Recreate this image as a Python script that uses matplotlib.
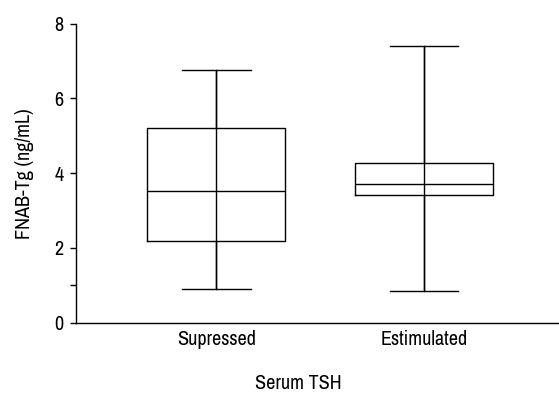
import matplotlib
matplotlib.use("Agg")
import matplotlib.pyplot as plt

# Values
groups = ["Supressed", "Estimulated"]
whisker_low = [0.91, 0.86]
q1 = [2.19, 3.41]
median = [3.52, 3.72]
q3 = [5.20, 4.28]
whisker_high = [6.76, 7.40]

# narrow sans like the original figure, with fallbacks
plt.rcParams["font.family"] = ["Archivo Narrow", "Liberation Sans", "DejaVu Sans"]
fs = 14.5

stats = []
for i, g in enumerate(groups):
    stats.append({
        "label": g,
        "whislo": whisker_low[i],
        "q1": q1[i],
        "med": median[i],
        "q3": q3[i],
        "whishi": whisker_high[i],
        "fliers": [],
    })

positions = [1, 2]

fig = plt.figure(figsize=(5.59, 3.93), dpi=100)
ax = fig.add_axes([0.1365, 0.1789, 0.8635, 0.7608])

line = dict(color="black", linewidth=1.0)
ax.bxp(stats, positions=positions, widths=0.665, showfliers=False,
       boxprops=line, whiskerprops=line, capprops=line, medianprops=line,
       capwidths=0.33)
# the whisker line runs through the whole box in the original
ax.vlines(positions, whisker_low, whisker_high, color="black", linewidth=1.0)

ax.set_xlim(0.325, 2.65)
ax.set_ylim(0, 8)
ax.set_yticks([0, 1, 2, 4, 6, 8])
ax.set_yticklabels(["0", "", "2", "4", "6", "8"])
ax.set_xticks(positions)
ax.set_xticklabels(groups)

for s in ["top", "right"]:
    ax.spines[s].set_visible(False)
ax.spines["left"].set_linewidth(1.0)
ax.spines["bottom"].set_linewidth(1.0)

ax.tick_params(axis="y", length=4, width=1.0, labelsize=fs, pad=5)
ax.tick_params(axis="x", length=0, labelsize=fs, pad=5)

ax.set_ylabel("FNAB-Tg (ng/mL)", fontsize=fs, labelpad=15)
ax.set_xlabel("Serum TSH", fontsize=fs)
ax.xaxis.set_label_coords(0.459, -0.172)

fig.savefig("out.png", dpi=100)
